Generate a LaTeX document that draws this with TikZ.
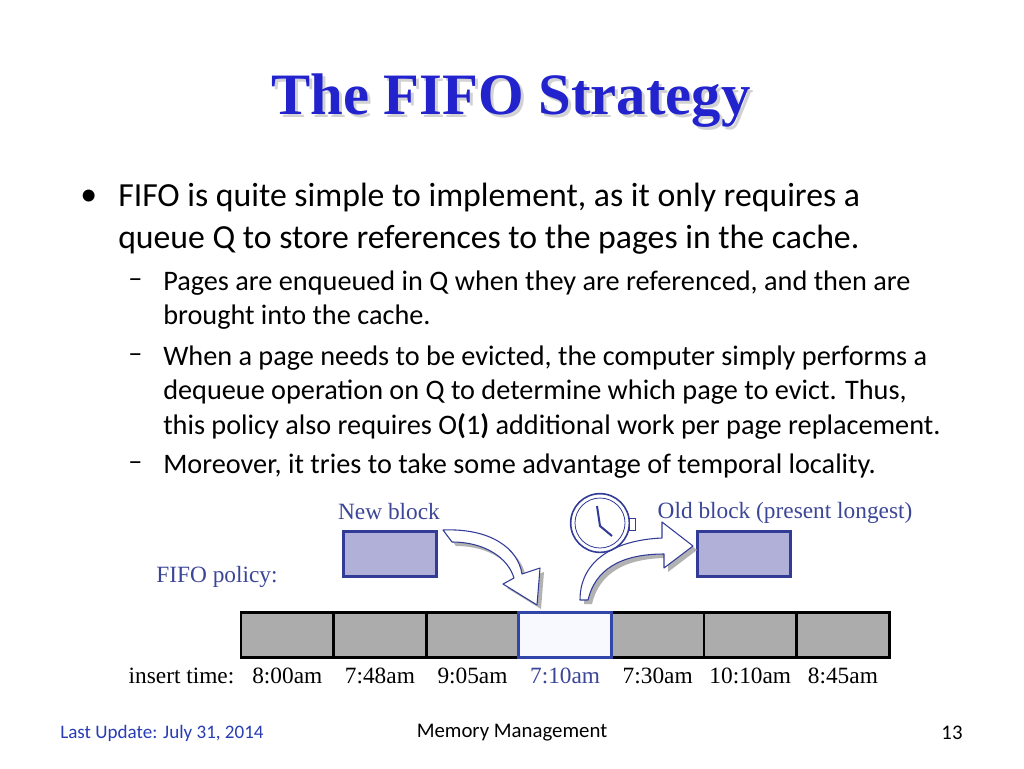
\documentclass[tikz,border=0pt]{standalone}
\usepackage{fontspec}
\setmainfont{Carlito}
\newfontfamily\ser{Liberation Serif}
\definecolor{tblue}{RGB}{35,35,205}
\definecolor{fblue}{RGB}{50,60,150}
\definecolor{lblue}{RGB}{60,70,150}
\definecolor{bfill}{RGB}{176,176,216}
\definecolor{cblue}{RGB}{50,70,170}
\definecolor{cfill}{RGB}{248,248,255}
\definecolor{ublue}{RGB}{40,60,180}
\begin{document}
\begin{tikzpicture}[x=0.75pt,y=-0.75pt,
 cell/.style={draw=black,line width=2.2pt,fill=gray!65,minimum width=69.5pt,minimum height=34pt,inner sep=0pt},
 blk/.style={draw=fblue,line width=2pt,fill=bfill,minimum width=70pt,minimum height=34pt,inner sep=0pt},
 tm/.style={font=\ser\fontsize{17.5}{19}\selectfont},
 lab/.style={font=\ser\fontsize{17.5}{19}\selectfont,text=lblue},
 body/.style={anchor=west,font=\fontsize{25.3}{28}\selectfont,inner sep=0pt},
 sub/.style={anchor=west,font=\fontsize{21.2}{24}\selectfont,inner sep=0pt},
 shd/.style={draw=none,fill=gray!60},
 arr/.style={draw=fblue,fill=white,line width=0.8pt,line join=round}]
\useasboundingbox (0,0) rectangle (1024,768);
\node[font=\ser\fontsize{44}{48}\selectfont\bfseries,text=gray!35] at (514,104) {The FIFO Strategy};
\node (title)[font=\ser\fontsize{44}{48}\selectfont\bfseries,text=tblue] at (511,101) {The FIFO Strategy};
\node (b1)[body] at (80,198) {•};
\node (l1)[body] at (118,198) {FIFO is quite simple to implement, as it only requires a};
\node (l2)[body] at (118,240) {queue Q to store references to the pages in the cache.};
\node (d1)[sub] at (128,283) {–};
\node (s1)[sub] at (163,283) {Pages are enqueued in Q when they are referenced, and then are};
\node (s2)[sub] at (163,317) {brought into the cache.};
\node (d2)[sub] at (128,358) {–};
\node (s3)[sub] at (163,358) {When a page needs to be evicted, the computer simply performs a};
\node (s4)[sub] at (163,392) {dequeue operation on Q to determine which page to evict. Thus,};
\node (s5)[sub] at (163,426) {this policy also requires O\textbf{(}1\textbf{)} additional work per page replacement.};
\node (d3)[sub] at (128,466) {–};
\node (s6)[sub] at (163,466) {Moreover, it tries to take some advantage of temporal locality.};
% cells
\foreach \i/\t in {1/8:00am,2/7:48am,3/9:05am,5/7:30am,6/10:10am,7/8:45am}{
 \node (c\i)[cell] at ({241+92.6*(\i-0.5)},635) {};
 \node (t\i)[tm] at ({241+92.6*(\i-0.5)},676) {\t};
}
\node (c4)[cell,draw=cblue,fill=cfill] at ({241+92.6*3.5},635) {};
\node (t4)[tm,text=lblue] at ({241+92.6*3.5},676) {7:10am};
\node (it)[tm,anchor=east] at (239,676) {insert time:};
\node (nb)[blk] at (390,554) {};
\node (ob)[blk] at (744,554) {};
\node (nbl)[lab] at (389,512) {New block};
\node (obl)[lab] at (785,513) {Old block (present longest)};
\node (fp)[lab] at (217,577) {FIFO policy:};
% arrow 1
\foreach \dx/\st in {4/shd,0/arr}{
\begin{scope}[xshift=\dx*0.75pt,yshift=-\dx*0.75pt]
\path[\st] (443,530) .. controls (490,528) and (518,548) .. (522,574) -- (540,568) -- (537,605) -- (503,584) -- (514,578)
 .. controls (508,558) and (485,542) .. (452,542) -- cycle;
\end{scope}}
% arrow 2
\foreach \dx/\st in {4/shd,0/arr}{
\begin{scope}[xshift=\dx*0.75pt,yshift=-\dx*0.75pt]
\path[\st] (580,600) .. controls (580,560) and (615,540) .. (662,538) -- (662,522) -- (693,546) -- (664,568) -- (664,554)
 .. controls (620,554) and (595,570) .. (588,600) -- cycle;
\end{scope}}
% clock
\node (clk)[circle,draw=fblue,fill=white,line width=1.2pt,minimum size=44pt] at (600,523) {};
\draw[fblue,line width=0.6pt] (clk.center) circle (25);
\draw[fblue,line width=1.5pt] (597,506) -- (600,526) -- (612,536);
\draw[fblue,fill=white] (629,518) rectangle (635,530);
% footer
\node (fu)[font=\fontsize{14.3}{16}\selectfont,text=ublue] at (162,733) {Last Update: July 31, 2014};
\node (fm)[font=\fontsize{15.6}{17}\selectfont] at (512,733) {Memory Management};
\node (fn)[font=\fontsize{15.6}{17}\selectfont] at (952,733) {13};
\end{tikzpicture}
\end{document}
